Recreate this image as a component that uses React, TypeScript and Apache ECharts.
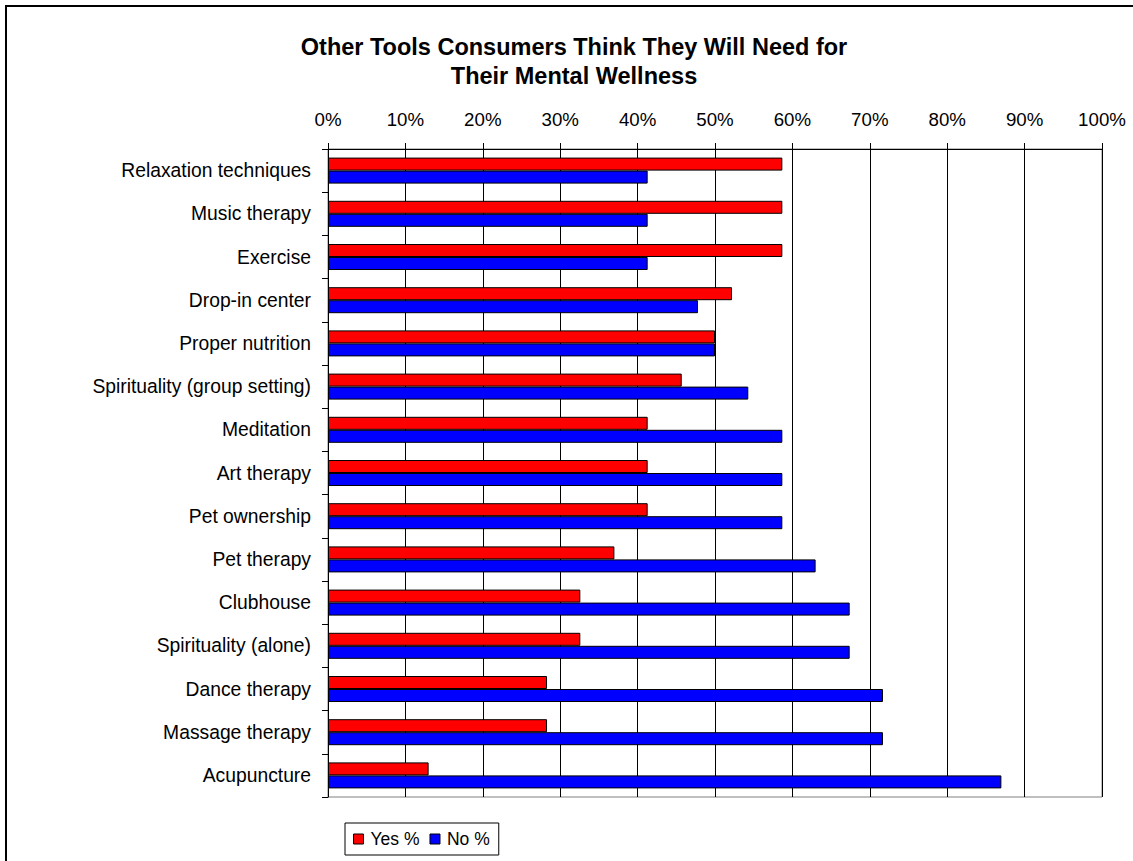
import React, { useEffect, useRef } from "react";
import * as echarts from "echarts";

const categories = [
  "Relaxation techniques",
  "Music therapy",
  "Exercise",
  "Drop-in center",
  "Proper nutrition",
  "Spirituality (group setting)",
  "Meditation",
  "Art therapy",
  "Pet ownership",
  "Pet therapy",
  "Clubhouse",
  "Spirituality (alone)",
  "Dance therapy",
  "Massage therapy",
  "Acupuncture",
];

const yesValues = [58.7, 58.7, 58.7, 52.2, 50.0, 45.7, 41.3, 41.3, 41.3, 37.0, 32.6, 32.6, 28.3, 28.3, 13.0];
const noValues = [41.3, 41.3, 41.3, 47.8, 50.0, 54.3, 58.7, 58.7, 58.7, 63.0, 67.4, 67.4, 71.7, 71.7, 87.0];

const seriesNames = ["Yes %", "No %"];
const titleLines = ["Other Tools Consumers Think They Will Need for", "Their Mental Wellness"];

const FONT = 'Arial, "Liberation Sans", Helvetica, sans-serif';

export default function App() {
  const ref = useRef<HTMLDivElement>(null);

  useEffect(() => {
    if (!ref.current) return;
    const chart = echarts.init(ref.current, null, { renderer: "svg" });
    chart.setOption({
      animation: false,
      backgroundColor: "#ffffff",
      textStyle: { fontFamily: FONT, color: "#000" },
      title: {
        text: titleLines.join("\n"),
        left: 574,
        top: 32,
        textAlign: "center",
        padding: 0,
        textStyle: {
          fontFamily: FONT,
          fontSize: 23.5,
          fontWeight: "bold",
          color: "#000",
          lineHeight: 29,
        },
      },
      graphic: [
        {
          type: "rect",
          shape: { x: 6, y: 6, width: 1200, height: 1000 },
          style: { fill: "none", stroke: "#000", lineWidth: 2 },
          silent: true,
        },
      ],
      legend: {
        left: 345,
        top: 823,
        orient: "horizontal",
        data: seriesNames,
        icon: "rect",
        itemWidth: 10,
        itemHeight: 10,
        itemGap: 10,
        padding: [7, 9, 7, 8],
        borderColor: "#000",
        borderWidth: 1,
        itemStyle: { borderColor: "#000", borderWidth: 1 },
        textStyle: { fontFamily: FONT, fontSize: 17.5, color: "#000", padding: [0, 0, 0, 2] },
      },
      grid: {
        left: 328,
        top: 149,
        width: 774,
        height: 648,
        show: true,
        borderColor: "#808080",
        borderWidth: 1,
        backgroundColor: "transparent",
        containLabel: false,
      },
      xAxis: {
        type: "value",
        position: "top",
        min: 0,
        max: 100,
        interval: 10,
        axisLine: { show: true, lineStyle: { color: "#000", width: 1 } },
        axisTick: { show: true, inside: false, length: 6, lineStyle: { color: "#000" } },
        splitLine: { show: true, lineStyle: { color: "#000", width: 1 } },
        axisLabel: {
          formatter: "{value}%",
          fontFamily: FONT,
          fontSize: 18.7,
          color: "#000",
          margin: 20,
        },
      },
      yAxis: {
        type: "category",
        inverse: true,
        data: categories,
        axisLine: { show: true, lineStyle: { color: "#000", width: 1 } },
        axisTick: { show: true, length: 6, alignWithLabel: false, interval: 0, lineStyle: { color: "#000" } },
        axisLabel: {
          fontFamily: FONT,
          fontSize: 19.3,
          color: "#000",
          margin: 17,
          interval: 0,
        },
      },
      series: [
        {
          name: seriesNames[0],
          type: "bar",
          data: yesValues,
          barWidth: 13,
          barGap: "0%",
          itemStyle: { color: "#FF0000", borderColor: "#000", borderWidth: 1 },
        },
        {
          name: seriesNames[1],
          type: "bar",
          data: noValues,
          barWidth: 13,
          barGap: "0%",
          itemStyle: { color: "#0000FF", borderColor: "#000", borderWidth: 1 },
        },
      ],
    });
    return () => chart.dispose();
  }, []);

  return (
    <div
      ref={ref}
      style={{ position: "absolute", left: 0, top: 0, width: 1133, height: 861 }}
    />
  );
}
